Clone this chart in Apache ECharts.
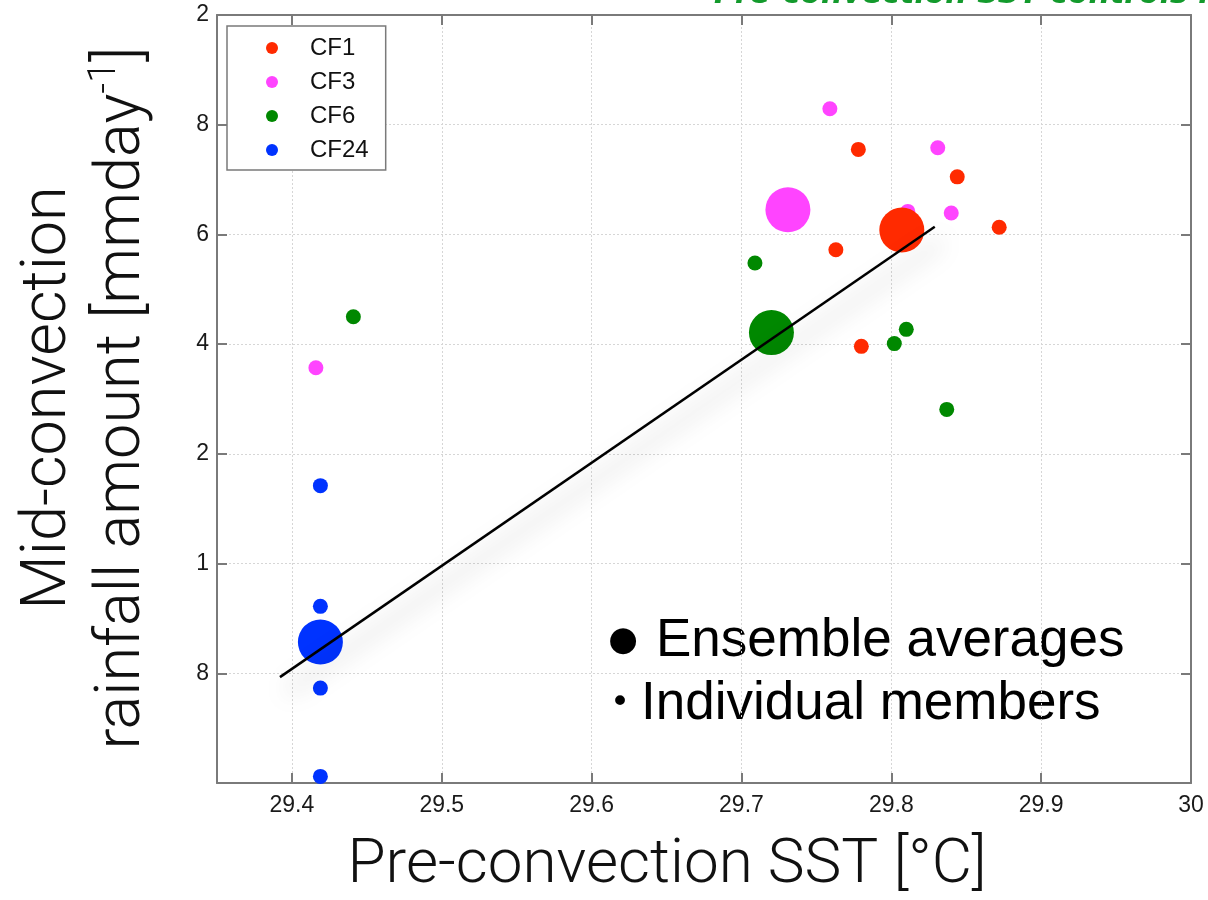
<!DOCTYPE html>
<html><head><meta charset="utf-8">
<script src="https://cdn.jsdelivr.net/npm/echarts@6/dist/echarts.min.js"></script>
<style>html,body{margin:0;padding:0;background:#fff}#c{width:1208px;height:900px}</style>
</head><body><div id="c"></div>
<script>
// ---- data ----
const seriesNames = ['CF1', 'CF3', 'CF6', 'CF24'];
const seriesColors = ['#ff2a00', '#ff44ff', '#008800', '#0033ff'];
const cf1Members = [[29.778, 1.755], [29.844, 1.705], [29.872, 1.613], [29.763, 1.572], [29.780, 1.396]];
const cf3Members = [[29.759, 1.829], [29.831, 1.758], [29.811, 1.642], [29.840, 1.639], [29.416, 1.357]];
const cf6Members = [[29.709, 1.548], [29.802, 1.401], [29.810, 1.427], [29.837, 1.281], [29.441, 1.450]];
const cf24Members = [[29.419, 1.142], [29.419, 0.922], [29.419, 0.773], [29.419, 0.612]];
const ensembleMeans = [[29.807, 1.608], [29.731, 1.645], [29.720, 1.421], [29.419, 0.857]];
const fitLine = [[29.392, 0.793], [29.829, 1.614]];
const xTickValues = [29.4, 29.5, 29.6, 29.7, 29.8, 29.9, 30.0];
const xTickLabels = ['29.4', '29.5', '29.6', '29.7', '29.8', '29.9', '30'];
const yTickValues = [0.6, 0.8, 1.0, 1.2, 1.4, 1.6, 1.8, 2.0];
const yTickLabels = ['', '8', '1', '2', '4', '6', '8', '2'];
const xTitle = 'Pre-convection SST [°C]';
const yTitleLine1 = 'Mid-convection';
const yTitleLine2 = 'rainfall amount [mmday';
const yTitleSup = '-1';
const noteLines = ['Ensemble averages', 'Individual members'];

// ---- chart ----
const members = [cf1Members, cf3Members, cf6Members, cf24Members];
const lookup = (vals, labels) => v => {
  const i = vals.findIndex(t => Math.abs(t - v) < 1e-6);
  return i >= 0 ? labels[i] : '';
};
const axisGray = '#7a7a7a';
const tickFont = { fontSize: 23, fontFamily: 'Liberation Sans', color: '#1a1a1a' };

const chart = echarts.init(document.getElementById('c'), null, { renderer: 'canvas' });

const series = [];
seriesNames.forEach((n, i) => {
  series.push({
    name: n, type: 'scatter', data: members[i], symbol: 'circle', symbolSize: 15,
    itemStyle: { color: seriesColors[i], opacity: 1 }, z: 3, silent: true
  });
});
series.push({
  name: 'Ensemble', type: 'scatter', symbol: 'circle', symbolSize: 45, z: 4, silent: true,
  itemStyle: { opacity: 1 },
  data: ensembleMeans.map((p, i) => ({ value: p, itemStyle: { color: seriesColors[i], opacity: 1 } }))
});
series.push({
  name: 'Fit', type: 'line', data: fitLine, symbol: 'none', z: 5, silent: true,
  lineStyle: { color: '#000', width: 2.5, shadowColor: 'rgba(0,0,0,0.4)', shadowBlur: 24, shadowOffsetX: 7, shadowOffsetY: 15 }
});

chart.setOption({
  backgroundColor: '#fff',
  animation: false,
  grid: { left: 217, right: 17, top: 15, bottom: 117, containLabel: false, outerBoundsMode: 'none' },
  legend: {
    data: seriesNames.map(n => ({ name: n, icon: 'circle' })),
    orient: 'vertical', left: 227, top: 26,
    padding: [10, 17, 8, 39],
    itemWidth: 66, itemHeight: 12, itemGap: 10,
    backgroundColor: '#fff', borderColor: axisGray, borderWidth: 1.5, borderRadius: 0,
    textStyle: { fontSize: 24, fontFamily: 'Liberation Sans', color: '#111', lineHeight: 24 },
    selectedMode: false
  },
  xAxis: [{
    type: 'value', min: 29.35, max: 30.0, position: 'bottom',
    axisLine: { show: true, lineStyle: { color: axisGray, width: 2 } },
    axisTick: { show: true, inside: true, length: 10, customValues: xTickValues, lineStyle: { color: axisGray, width: 2 } },
    axisLabel: Object.assign({ customValues: xTickValues, margin: 11, formatter: lookup(xTickValues, xTickLabels) }, tickFont),
    splitLine: { show: true, lineStyle: { color: '#d6d6d6', width: 1, type: [2, 2] } }
  }, {
    type: 'value', min: 29.35, max: 30.0, position: 'top',
    axisLine: { show: true, lineStyle: { color: axisGray, width: 2 } },
    axisTick: { show: true, inside: true, length: 10, customValues: xTickValues, lineStyle: { color: axisGray, width: 2 } },
    axisLabel: { show: false }, splitLine: { show: false }
  }],
  yAxis: [{
    type: 'value', min: 0.6, max: 2.0, interval: 0.2, position: 'left',
    axisLine: { show: true, lineStyle: { color: axisGray, width: 2 } },
    axisTick: { show: true, inside: true, length: 10, lineStyle: { color: axisGray, width: 2 } },
    axisLabel: Object.assign({ margin: 8, formatter: lookup(yTickValues, yTickLabels), showMinLabel: true, showMaxLabel: true }, tickFont),
    splitLine: { show: true, lineStyle: { color: '#d6d6d6', width: 1, type: [2, 2] } }
  }, {
    type: 'value', min: 0.6, max: 2.0, interval: 0.2, position: 'right',
    axisLine: { show: true, lineStyle: { color: axisGray, width: 2 } },
    axisTick: { show: true, inside: true, length: 10, lineStyle: { color: axisGray, width: 2 } },
    axisLabel: { show: false }, splitLine: { show: false }
  }],
  series: series,
  graphic: [
    { type: 'text', x: 667, y: 866, silent: true,
      style: { text: xTitle, fontSize: 62, fontFamily: 'Roboto', fontWeight: 300, fill: '#111', align: 'center', verticalAlign: 'middle' } },
    { type: 'text', x: 86, y: 398, rotation: Math.PI / 2, silent: true,
      style: {
        text: '{a|' + yTitleLine1 + '}\n{a|' + yTitleLine2 + '}{s|' + yTitleSup + '}{a|]}',
        align: 'center', verticalAlign: 'middle',
        rich: {
          a: { fontSize: 63, fontFamily: 'Roboto', fontWeight: 300, fill: '#111', lineHeight: 74 },
          s: { fontSize: 38, fontFamily: 'Roboto', fontWeight: 300, fill: '#111', lineHeight: 74, verticalAlign: 'top' }
        }
      } },
    { type: 'text', x: 623, y: 641, silent: true,
      style: { text: '●', fontSize: 34, fontFamily: 'DejaVu Sans', fill: '#000', align: 'center', verticalAlign: 'middle' } },
    { type: 'text', x: 656, y: 641, silent: true,
      style: { text: noteLines[0], fontSize: 53, fontFamily: 'Liberation Sans', fill: '#000', align: 'left', verticalAlign: 'middle' } },
    { type: 'text', x: 620, y: 704, silent: true,
      style: { text: '•', fontSize: 34, fontFamily: 'DejaVu Sans', fill: '#000', align: 'center', verticalAlign: 'middle' } },
    { type: 'text', x: 641, y: 704, silent: true,
      style: { text: noteLines[1], fontSize: 53, fontFamily: 'Liberation Sans', fill: '#000', align: 'left', verticalAlign: 'middle' } },
    { type: 'text', x: 714, y: 10, silent: true,
      style: { text: 'Pre-convection SST controls mid-convection rainfall amount', fontSize: 30, fontFamily: 'DejaVu Sans', fontWeight: 'bold', fontStyle: 'italic', fill: '#139a2c', align: 'left', verticalAlign: 'bottom' } }
  ]
});
</script></body></html>
